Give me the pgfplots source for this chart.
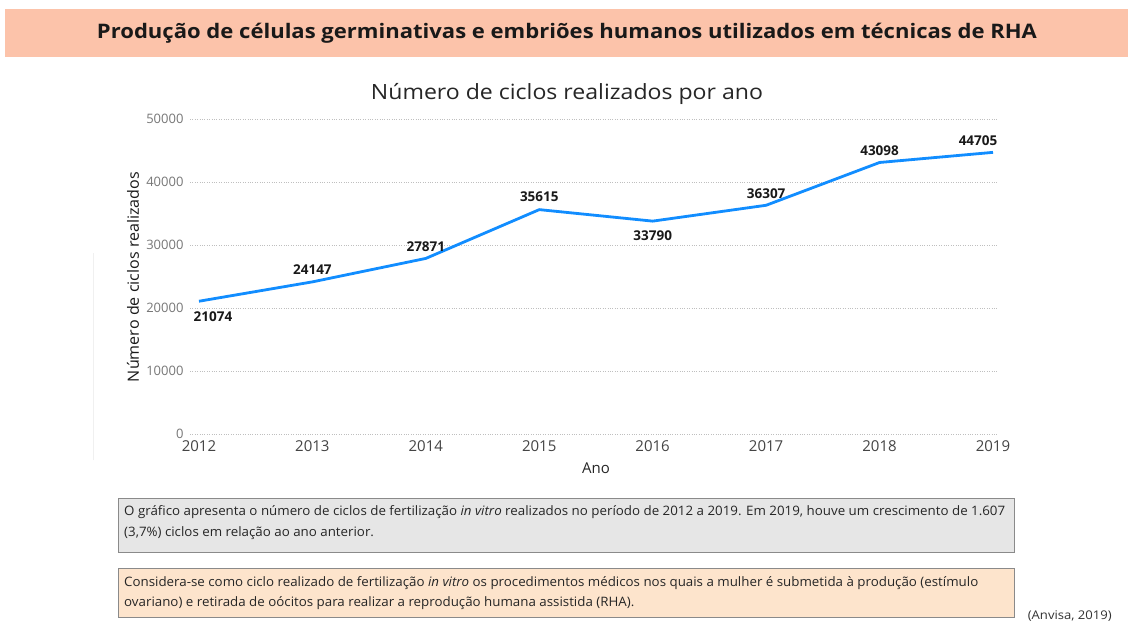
\documentclass[border=0pt]{standalone}
\usepackage{pgfplots}
\pgfplotsset{compat=1.18}
\usepackage{pgfplotstable}
\usepackage{fontspec}
\usepackage{graphicx}
\setmainfont{Open Sans}
\definecolor{banner}{HTML}{FCC3AA}
\definecolor{pbblue}{HTML}{118DFF}
\definecolor{boxA}{HTML}{E6E6E6}
\definecolor{boxB}{HTML}{FDE4CC}
\definecolor{boxline}{HTML}{8A8A8A}
\definecolor{ticky}{HTML}{777777}
\definecolor{tickx}{HTML}{444444}

\pgfplotstableread{
ano valor dx dy
2012 21074 14 -15
2013 24147 0 12
2014 27871 0 12
2015 35615 0 13
2016 33790 0 -15
2017 36307 0 12
2018 43098 0 12
2019 44705 -15 12
}\datatable

\newlength\Lone
\newcommand\boxfont{\fontsize{13}{15}\selectfont}
\newcommand\lineA{O gráfico apresenta o número de ciclos de fertilização \textit{in vitro} realizados no período de 2012 a 2019. Em 2019, houve um crescimento de 1.607}

\begin{document}%
\settowidth\Lone{\boxfont\lineA}%
\pgfmathsetmacro\sx{881/\Lone}%
\begin{tikzpicture}[x=1pt,y=1pt]
\useasboundingbox (0,0) rectangle (1129,622);
\fill[white] (0,0) rectangle (1129,622);
% banner
\fill[banner] (5,565) rectangle (1128,613);
\node[anchor=base, inner sep=0pt, text=black!90] at (567,583)
  {\fontsize{20}{22}\selectfont\bfseries\resizebox{940pt}{\height}{Produção de células germinativas e embriões humanos utilizados em técnicas de RHA}};
% chart title
\node[anchor=base, inner sep=0pt, text=black!85] at (567,522)
  {\fontsize{21}{24}\selectfont\resizebox{392pt}{\height}{Número de ciclos realizados por ano}};
% faint separator
\draw[black!6, line width=0.8pt] (93,162) -- (93,369);

\begin{axis}[
  at={(190pt,188pt)}, anchor=south west,
  scale only axis, width=808pt, height=315pt,
  xmin=2011.921, xmax=2019.044,
  ymin=0, ymax=50000,
  axis lines=none,
  xtick={2012,...,2019}, ytick={0,10000,...,50000},
  scaled y ticks=false,
  yticklabel={\pgfmathprintnumber[fixed,precision=0,1000 sep={},assume math mode=true]{\tick}},
  ymajorgrids, major grid style={black!25, dotted, line width=0.8pt},
  tick style={draw=none},
  /pgf/number format/assume math mode=true,
  /pgf/number format/1000 sep={},
  yticklabel style={font=\fontsize{13}{15}\selectfont, text=ticky, anchor=east, xshift=-3pt},
  xticklabel style={font=\fontsize{15}{17}\selectfont, text=tickx, anchor=north, yshift=-3pt},
  hide x axis=false, hide y axis=false,
  axis x line*=bottom, axis y line*=left,
  x axis line style={draw=none}, y axis line style={draw=none},
  clip=false,
  point meta=explicit symbolic,
  nodes near coords,
  visualization depends on={\thisrow{dx} \as \dx},
  visualization depends on={\thisrow{dy} \as \dy},
  nodes near coords style={font=\fontsize{13.5}{15}\selectfont\bfseries, text=black!90, anchor=center, inner sep=0pt, xshift=\dx pt, yshift=\dy pt},
]
\addplot[pbblue, line width=2.8pt, line join=round, mark=none] table[x=ano, y=valor, meta=valor] {\datatable};
\end{axis}

% axis labels
\node[inner sep=0pt, rotate=90, text=black!90] at (133,345)
  {\fontsize{15.5}{17}\selectfont\resizebox{210pt}{\height}{Número de ciclos realizados}};
\node[inner sep=0pt, text=black!85] at (596,154) {\fontsize{15}{17}\selectfont Ano};

% text boxes
\filldraw[fill=boxA, draw=boxline, line width=1pt] (118,70) rectangle (1014,124);
\node[anchor=base west, inner sep=0pt, text=black!85] at (124,107)
  {\boxfont\scalebox{\sx}[1]{\lineA}};
\node[anchor=base west, inner sep=0pt, text=black!85] at (124,86)
  {\boxfont\scalebox{\sx}[1]{(3,7\%) ciclos em relação ao ano anterior.}};

\filldraw[fill=boxB, draw=boxline, line width=1pt] (118,5) rectangle (1014,54);
\node[anchor=base west, inner sep=0pt, text=black!85] at (124,36)
  {\boxfont\scalebox{\sx}[1]{Considera-se como ciclo realizado de fertilização \textit{in vitro} os procedimentos médicos nos quais a mulher é submetida à produção (estímulo}};
\node[anchor=base west, inner sep=0pt, text=black!85] at (124,16)
  {\boxfont\scalebox{\sx}[1]{ovariano) e retirada de oócitos para realizar a reprodução humana assistida (RHA).}};

\node[anchor=base east, inner sep=0pt, text=black!80] at (1112,3)
  {\fontsize{12}{14}\selectfont\resizebox{84pt}{\height}{(Anvisa, 2019)}};
\end{tikzpicture}%
\end{document}
